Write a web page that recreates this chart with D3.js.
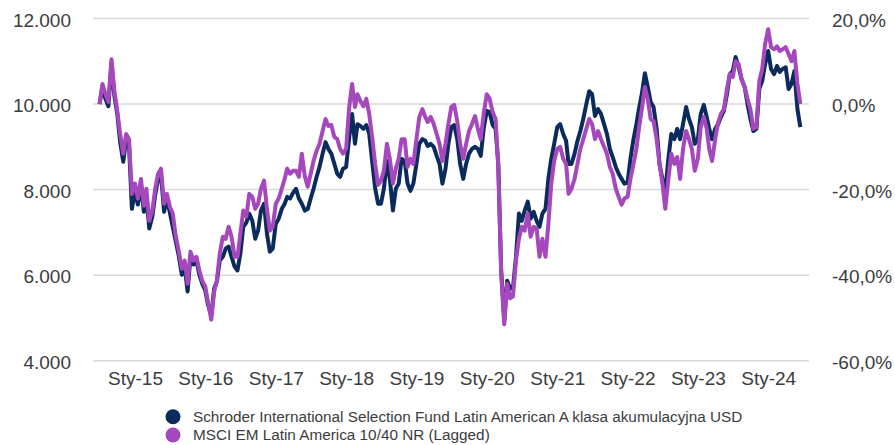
<!DOCTYPE html>
<html>
<head>
<meta charset="utf-8">
<script src="https://cdn.jsdelivr.net/npm/d3@7"></script>
<style>
  body { margin: 0; background: #fff; }
  svg text { font-family: "Liberation Sans", Arial, sans-serif; fill: #3c3c3c; }
</style>
</head>
<body>
<div id="chart"></div>
<script>
// Serie: wartosc 10 000 USD, punkty co pol miesiaca od 1 lipca 2014
var seriesNames = [
    "Schroder International Selection Fund Latin American A klasa akumulacyjna USD",
    "MSCI EM Latin America 10/40 NR (Lagged)"
];

var fundValues = [
    10000,10400,10120,9950,10960,10190,9770,9110,8650,9180,
    9040,7550,7970,7650,8110,7480,7880,7090,7370,7880,
    8250,8350,7480,7790,7460,7130,6780,6460,6010,6200,
    5620,6430,6250,6340,6010,5800,5640,5290,5060,5690,
    5850,6340,6430,6620,6670,6430,6200,6110,6500,7130,
    7230,7440,7270,6850,7040,7510,7670,6970,6550,6620,
    7200,7320,7550,7670,7830,7790,7930,8020,7790,7670,
    7510,7550,7790,8020,8300,8530,8840,9110,8950,8840,
    8600,8370,8300,8490,8530,9180,9770,9070,9530,9490,
    9420,9510,9300,8670,8020,7670,7670,8020,8670,8250,
    7510,8020,8140,8720,8670,8140,7970,8140,8600,9070,
    9180,9140,9020,9070,9000,8790,8600,8140,8490,9070,
    9460,9510,9180,8600,8250,8600,8840,8950,9000,8950,
    8790,9420,9840,9810,9510,9420,8600,6110,4940,5870,
    5690,5690,6430,7440,7270,7510,7720,7320,7480,7270,
    7130,7440,7550,8250,8720,9070,9460,9530,9300,9140,
    8600,8600,8840,9140,9370,9650,10000,10300,10230,9720,
    9880,9770,9530,9300,8950,8760,8530,8370,8250,8140,
    8160,8720,9180,9530,9880,10230,10720,10400,10050,9930,
    9420,8600,8250,7970,8720,9300,9180,9420,9180,9530,
    9930,9650,9460,9070,9180,9770,9980,9700,9420,9180,
    9420,9530,9700,9840,10230,10700,10770,11100,10860,10580,
    10400,10000,9650,9370,9420,10350,10540,10930,11240,10820,
    10700,10890,10750,10820,10860,10350,10470,10770,9880,9460
];

var indexValues = [
    10000,10470,10230,10050,11050,10300,9840,9300,8840,9300,
    9180,7900,8140,7790,8250,7620,8020,7270,7510,8020,
    8370,8490,7670,7900,7600,7440,6900,6570,6150,6340,
    5800,6550,6340,6430,6110,5870,5730,5340,4960,5620,
    5870,6500,6900,6850,7130,6900,6430,6430,6970,7510,
    7370,7900,7830,7550,7670,8020,8210,7550,7040,7130,
    7670,7790,8020,8250,8490,8370,8440,8440,8300,8840,
    8300,8070,8370,8670,8910,9070,9370,9650,9490,9510,
    9230,9180,8950,8840,8950,9880,10470,9930,10230,10070,
    9950,10120,9770,9230,8600,8110,8210,8440,9070,8720,
    8140,8490,8720,9180,9180,8530,8720,8600,9180,9700,
    9880,9700,9580,9700,9530,9300,9070,8670,9070,9530,
    9930,9980,9600,9070,8720,9070,9370,9530,9720,9420,
    9180,9770,10230,10120,9810,9650,8530,6040,4850,5800,
    5460,5500,6340,6850,7130,7040,7440,6900,7130,7090,
    6430,6850,6430,7200,8140,8670,8950,9000,8720,8600,
    7900,8020,8250,8600,8950,9180,9420,9650,9530,9180,
    9370,9180,9000,8840,8530,8370,8020,7830,7650,7790,
    7830,8250,8600,8950,9420,9880,10400,10120,9650,9600,
    9180,8600,8140,7550,8250,8840,8600,8760,8250,8950,
    9370,9180,8950,8440,8720,9460,9700,9420,8950,8670,
    9180,9560,9770,9880,10350,10700,10630,11000,10930,10580,
    10400,10120,9880,9420,9460,10540,10820,11400,11750,11330,
    11280,11350,11240,11280,11330,11170,11000,11240,10470,10000
];

var tickYears = [2015, 2016, 2017, 2018, 2019, 2020, 2021, 2022, 2023, 2024];
var tickLabels = ["Sty-15", "Sty-16", "Sty-17", "Sty-18", "Sty-19", "Sty-20", "Sty-21", "Sty-22", "Sty-23", "Sty-24"];
var leftTicks = [4000, 6000, 8000, 10000, 12000];
var rightTicks = [-0.6, -0.4, -0.2, 0, 0.2];

var colors = ["#0b2b5c", "#a548bd"];

var width = 895;
var height = 445;

// polski format liczb: 12.000 i 20,0%
var pl = d3.formatLocale({ decimal: ",", thousands: ".", grouping: [3], currency: ["", ""], minus: "-" });
var fmtLeft = pl.format(",.0f");
var fmtRight = pl.format(".1%");

function dateAt(i) {
    return new Date(2014, 6 + Math.floor(i / 2), i % 2 ? 16 : 1);
}

var fund = fundValues.map(function(v, i) { return { date: dateAt(i), value: v }; });
var bench = indexValues.map(function(v, i) { return { date: dateAt(i), value: v }; });

var svg = d3.select("#chart").append("svg")
    .attr("width", width)
    .attr("height", height);

var x = d3.scaleTime()
    .domain([new Date(2014, 4, 28), new Date(2024, 6, 31)])
    .range([93, 809]);

var y = d3.scaleLinear()
    .domain([4000, 12000])
    .range([360.7, 18.5]);

var y2 = d3.scaleLinear()
    .domain([-0.6, 0.2])
    .range([360.7, 18.5]);

// linie siatki
svg.append("g").selectAll("line")
    .data(leftTicks)
    .enter().append("line")
    .attr("x1", 93)
    .attr("x2", 809)
    .attr("y1", function(d) { return y(d); })
    .attr("y2", function(d) { return y(d); })
    .attr("stroke", "#d9d9d9")
    .attr("stroke-width", 1.5);

// os lewa
var yAxis = d3.axisLeft(y).tickValues(leftTicks).tickFormat(fmtLeft).tickSize(0).tickPadding(0);
var gl = svg.append("g").attr("transform", "translate(71,1.5)").call(yAxis);
gl.select(".domain").remove();
gl.selectAll("text").attr("font-size", 19).attr("fill", "#3c3c3c");

// os prawa
var yAxis2 = d3.axisRight(y2).tickValues(rightTicks).tickFormat(fmtRight).tickSize(0).tickPadding(0);
var gr = svg.append("g").attr("transform", "translate(832,1.5)").call(yAxis2);
gr.select(".domain").remove();
gr.selectAll("text").attr("font-size", 19).attr("fill", "#3c3c3c");

// os dolna
var xAxis = d3.axisBottom(x)
    .tickValues(tickYears.map(function(yr) { return new Date(yr, 0, 1); }))
    .tickFormat(function(d, i) { return tickLabels[i]; })
    .tickSize(0)
    .tickPadding(0);
var gx = svg.append("g").attr("transform", "translate(0,371)").call(xAxis);
gx.select(".domain").remove();
gx.selectAll("text").attr("font-size", 19).attr("fill", "#3c3c3c");

var line = d3.line()
    .x(function(d) { return x(d.date); })
    .y(function(d) { return y(d.value); });

svg.append("path")
    .datum(fund)
    .attr("d", line)
    .attr("fill", "none")
    .attr("stroke", colors[0])
    .attr("stroke-width", 4)
    .attr("stroke-linejoin", "round");

svg.append("path")
    .datum(bench)
    .attr("d", line)
    .attr("fill", "none")
    .attr("stroke", colors[1])
    .attr("stroke-width", 4)
    .attr("stroke-linejoin", "round");

// legenda
var legend = svg.append("g").selectAll("g")
    .data(seriesNames)
    .enter().append("g")
    .attr("transform", function(d, i) { return "translate(173," + (416.7 + i * 18.3) + ")"; });

legend.append("circle")
    .attr("r", 7.5)
    .attr("fill", function(d, i) { return colors[i]; });

legend.append("text")
    .attr("x", 20)
    .attr("dy", "0.35em")
    .attr("font-size", 15.3)
    .text(function(d) { return d; });
</script>
</body>
</html>
